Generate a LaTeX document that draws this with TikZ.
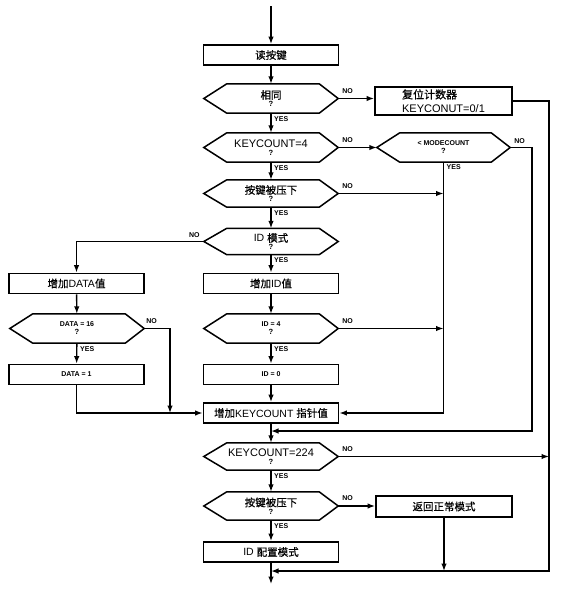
\documentclass[tikz,border=0pt]{standalone}
\usepackage{fontspec}
\setmainfont{Liberation Sans}
\newfontfamily\cjk[FakeBold=0.6]{Noto Sans CJK SC}
\usetikzlibrary{arrows.meta}
\newcommand{\hexq}[1]{#1\\[-2pt]{\bfseries\fontsize{7.5}{7.5}\selectfont ?}}
\begin{document}
\begin{tikzpicture}[x=1pt,y=-1pt,
  conn/.style={line width=1.4pt},
  arr/.style={conn,-{Latex[length=7.5pt,width=5.5pt]}},
  box/.style={draw,line width=1.7pt,minimum width=135pt,minimum height=20pt,inner sep=0pt,font=\fontsize{10.5}{12}\selectfont},
  hexa/.style={minimum width=134pt,minimum height=29pt,inner sep=0pt,align=center,font=\fontsize{10.5}{10}\selectfont},
  hexline/.style={line width=1.5pt,line join=miter},
  small/.style={font=\bfseries\fontsize{7}{8}\selectfont},
  yn/.style={font=\bfseries\fontsize{7}{7}\selectfont,inner sep=0pt}]
\useasboundingbox (0,0) rectangle (561,592);

% boxes
\node[box] (B1) at (271,55) {\cjk 读按键};
\node[box,minimum width=137pt,minimum height=28pt,align=left,font=\fontsize{11}{14}\selectfont] (B2) at (443.5,101) {{\cjk 复位计数器}\\KEYCONUT=0/1};
\node[box] (B3) at (76.5,283.5) {{\cjk 增加}DATA{\cjk 值}};
\node[box] (B4) at (271,283.5) {{\cjk 增加}ID{\cjk 值}};
\node[box,small] (B5) at (76.5,374.5) {DATA = 1};
\node[box,small] (B6) at (271,374.5) {ID = 0};
\node[box] (B7) at (271,413) {{\cjk 增加}KEYCOUNT {\cjk 指针值}};
\node[box,minimum width=136pt,minimum height=21pt] (B8) at (444,506.5) {\cjk 返回正常模式};
\node[box] (B9) at (271,552) {ID {\cjk 配置模式}};

% decisions
\node[hexa] (H1) at (271,98.5) {\hexq{\cjk 相同}};
\node[hexa] (H2) at (271,147.5) {\hexq{\fontsize{11}{11}\selectfont KEYCOUNT=4}};
\node[hexa,minimum width=133pt] (H3) at (443.5,147.5) {\hexq{\bfseries\fontsize{7}{7}\selectfont < MODECOUNT}};
\node[hexa,minimum height=27pt] (H4) at (271,193.5) {\hexq{\cjk 按键被压下}};
\node[hexa,minimum height=26pt] (H5) at (271,241.5) {\hexq{ID {\cjk 模式}}};
\node[hexa] (H6) at (77,328.5) {\hexq{\bfseries\fontsize{7}{7}\selectfont DATA = 16}};
\node[hexa] (H7) at (271,328.5) {\hexq{\bfseries\fontsize{7}{7}\selectfont ID = 4}};
\node[hexa,minimum height=27pt] (H8) at (271,456.5) {\hexq{\fontsize{11}{11}\selectfont KEYCOUNT=224}};
\node[hexa,minimum height=28pt] (H9) at (271,506) {\hexq{\cjk 按键被压下}};

\foreach \h in {H1,H2,H3,H4,H5,H6,H7,H8,H9}
  \draw[hexline] (\h.west) -- ([xshift=23pt]\h.north west) -- ([xshift=-19pt]\h.north east)
    -- (\h.east) -- ([xshift=-19pt]\h.south east) -- ([xshift=23pt]\h.south west) -- cycle;

% coordinates
\coordinate (top) at (271,6);
\coordinate (bot) at (271,584);
\coordinate (xr) at (549,571);
\coordinate (jb) at (271,571);
\coordinate (xm) at (532,431);
\coordinate (jm) at (271,431);
\coordinate (xd) at (170,413);

% main column
\draw[arr] (top) -- (B1);
\draw[arr] (B1) -- (H1);
\draw[arr] (H1) -- (H2);
\draw[arr] (H2) -- (H4);
\draw[arr] (H4) -- (H5);
\draw[arr] (H5) -- (B4);
\draw[arr] (B4) -- (H7);
\draw[arr] (H7) -- (B6);
\draw[arr] (B6) -- (B7);
\draw[arr] (B7) -- (H8);
\draw[arr] (H8) -- (H9);
\draw[arr] (H9) -- (B9);
\draw[arr] (B9) -- (bot);

% right branches
\draw[arr] (H1.east) -- (H1.east -| B2.west);
\draw[arr] (B2.east) -| (xr) -- (jb);
\draw[arr] (H2.east) -- (H3.west);
\draw[arr] (H3.east) -| (xm) -- (jm);
\draw[arr] (H3.south) |- (B7.east);
\draw[arr] (H4.east) -- (H4.east -| H3.south);
\draw[arr] (H7.east) -- (H7.east -| H3.south);
\draw[arr] (H8.east) -- (H8.east -| xr);
\draw[arr] (H9.east) -- (H9.east -| B8.west);
\draw[arr] (B8.south) -- (B8.south |- jb);

% left branch
\draw[arr] (H5.west) -| (B3.north);
\draw[arr] (B3) -- (H6);
\draw[arr] (H6) -- (B5);
\draw[arr] (B5.south) |- (B7.west);
\draw[arr] (H6.east) -| (xd);

% labels
\node[yn,anchor=south west] (n1) at ([shift={(4pt,5pt)}]H1.east) {NO};
\node[yn,anchor=north west] (y1) at ([shift={(3pt,-3pt)}]H1.south) {YES};
\node[yn,anchor=south west] (n2) at ([shift={(4pt,5pt)}]H2.east) {NO};
\node[yn,anchor=north west] (y2) at ([shift={(3pt,-3pt)}]H2.south) {YES};
\node[yn,anchor=south west] (n3) at ([shift={(4pt,4pt)}]H3.east) {NO};
\node[yn,anchor=north west] (y3) at ([shift={(3pt,-2pt)}]H3.south) {YES};
\node[yn,anchor=south west] (n4) at ([shift={(4pt,5pt)}]H4.east) {NO};
\node[yn,anchor=north west] (y4) at ([shift={(3pt,-3pt)}]H4.south) {YES};
\node[yn,anchor=south east] (n5) at ([shift={(-4pt,4pt)}]H5.west) {NO};
\node[yn,anchor=north west] (y5) at ([shift={(3pt,-3pt)}]H5.south) {YES};
\node[yn,anchor=south west] (n6) at ([shift={(2pt,5pt)}]H6.east) {NO};
\node[yn,anchor=north west] (y6) at ([shift={(3pt,-3pt)}]H6.south) {YES};
\node[yn,anchor=south west] (n7) at ([shift={(4pt,5pt)}]H7.east) {NO};
\node[yn,anchor=north west] (y7) at ([shift={(3pt,-3pt)}]H7.south) {YES};
\node[yn,anchor=south west] (n8) at ([shift={(4pt,5pt)}]H8.east) {NO};
\node[yn,anchor=north west] (y8) at ([shift={(3pt,-3pt)}]H8.south) {YES};
\node[yn,anchor=south west] (n9) at ([shift={(4pt,5pt)}]H9.east) {NO};
\node[yn,anchor=north west] (y9) at ([shift={(3pt,-3pt)}]H9.south) {YES};
\end{tikzpicture}
\end{document}
